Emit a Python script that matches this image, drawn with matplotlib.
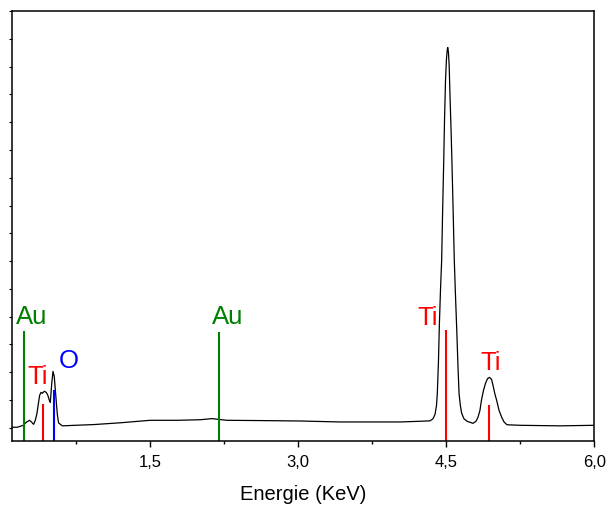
import matplotlib
matplotlib.use("Agg")
import matplotlib.pyplot as plt
from matplotlib.ticker import MultipleLocator, FixedLocator, FuncFormatter

plt.rcParams['font.family'] = ['Liberation Sans', 'DejaVu Sans']

# EDX spectrum (energy in keV, counts)
energy = [
    0.103, 0.154, 0.215, 0.245, 0.278, 0.296, 0.319, 0.336, 0.353, 0.366,
    0.380, 0.394, 0.407, 0.427, 0.447, 0.463, 0.478, 0.488, 0.501, 0.515,
    0.528, 0.544, 0.559, 0.572, 0.609, 0.741, 0.923, 1.196, 1.500, 1.773,
    2.006, 2.124, 2.188, 2.276, 2.613, 3.018, 3.423, 4.030, 4.233, 4.334,
    4.364, 4.385, 4.400, 4.408, 4.420, 4.428, 4.440, 4.452, 4.462, 4.473,
    4.481, 4.491, 4.501, 4.509, 4.514, 4.521, 4.528, 4.538, 4.549, 4.557,
    4.567, 4.580, 4.592, 4.604, 4.617, 4.628, 4.641, 4.655, 4.678, 4.709,
    4.769, 4.800, 4.820, 4.840, 4.855, 4.876, 4.896, 4.916, 4.936, 4.957,
    4.972, 4.992, 5.009, 5.033, 5.060, 5.083, 5.113, 5.245, 5.650, 5.995,
]
counts = [
    4, 4, 18, 40, 54, 43, 25, 54, 104, 169,
    234, 255, 248, 263, 255, 234, 198, 183, 306, 406,
    370, 227, 97, 35, 14, 18, 23, 36, 54, 54,
    58, 66, 61, 54, 52, 49, 42, 42, 47, 50,
    65, 97, 162, 248, 486, 723, 989, 1205, 1565, 1924,
    2212, 2500, 2658, 2723, 2737, 2701, 2608, 2356, 2104, 1888,
    1601, 1205, 953, 723, 450, 248, 162, 104, 65, 47,
    32, 47, 76, 126, 198, 270, 320, 353, 363, 349,
    306, 241, 198, 126, 76, 43, 22, 18, 14, 18,
]

# element marker lines
line_energy = [0.225, 0.414, 0.525, 2.198, 4.499, 4.931]
line_height = [696, 174, 275, 689, 706, 162]
line_color = ['#008000', '#ff0000', '#0000ff', '#008000', '#ff0000', '#ff0000']

# labels (left edge, baseline)
label_text = ['Au', 'Ti', 'O', 'Au', 'Ti', 'Ti']
label_x = [0.144, 0.252, 0.572, 2.124, 4.205, 4.847]
label_y = [745, 318, 433, 750, 737, 414]
label_color = ['#008000', '#ff0000', '#0000ff', '#008000', '#ff0000', '#ff0000']

x_ticks = [1.5, 3.0, 4.5, 6.0]
x_ticklabels = ['1,5', '3,0', '4,5', '6,0']

fig = plt.figure(figsize=(6.06, 5.09), dpi=100)
ax = fig.add_axes([0.0198, 0.1336, 0.9612, 0.8448])

ymin, ymax = -95, 3000
ax.plot(energy, counts, color='black', lw=0.9)
ax.vlines(line_energy, ymin, line_height, colors=line_color, lw=1.5)
for t, x, y, c in zip(label_text, label_x, label_y, label_color):
    ax.text(x, y, t, color=c, fontsize=18.5, ha='left', va='baseline')

ax.set_xlim(0.10, 6.0)
ax.set_ylim(ymin, ymax)

ax.xaxis.set_major_locator(FixedLocator(x_ticks))
ax.xaxis.set_major_formatter(FuncFormatter(lambda v, p: x_ticklabels[x_ticks.index(round(v, 2))] if round(v, 2) in x_ticks else ''))
ax.xaxis.set_minor_locator(MultipleLocator(0.75))
ax.yaxis.set_major_locator(MultipleLocator(200))
ax.tick_params(axis='x', which='major', direction='out', length=4.3, width=1, labelsize=12, pad=5.5)
ax.tick_params(axis='x', which='minor', direction='out', length=2.5, width=1)
ax.tick_params(axis='y', which='major', direction='out', length=2, width=0.8, labelleft=False)

for s in ax.spines.values():
    s.set_linewidth(1.1)

ax.set_xlabel('Energie (KeV)', fontsize=14.5, labelpad=11)

fig.savefig('out.png', dpi=100)
